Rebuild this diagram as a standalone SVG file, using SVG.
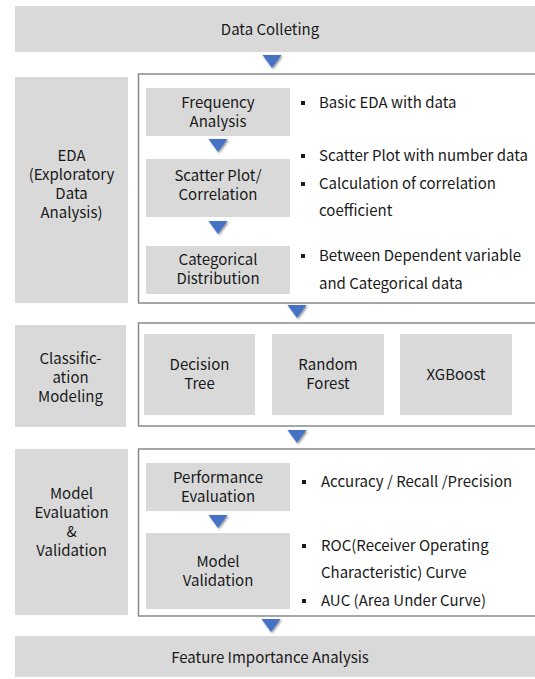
<svg xmlns="http://www.w3.org/2000/svg" width="535" height="679" viewBox="0 0 535 679">
  <defs>
    <style>
      .band { fill: #d9d9d9; }
      .box { fill: #d9d9d9; }
      .frame { fill: #ffffff; stroke: #8a8a8a; stroke-width: 1.5; }
      .lbl { font-family: "Noto Sans CJK KR", "Noto Sans", sans-serif; font-size: 15px; fill: #1a1a1a; text-anchor: middle; }
      .note { font-family: "Noto Sans CJK KR", "Noto Sans", sans-serif; font-size: 15px; fill: #1a1a1a; }
      .dot { fill: #1a1a1a; }
      .arrow { fill: #4472c4; filter: url(#shade); }
    </style>
    <filter id="shade" x="-40%" y="-40%" width="180%" height="180%">
      <feDropShadow dx="1.2" dy="1.2" stdDeviation="0.8" flood-color="#000000" flood-opacity="0.45"/>
    </filter>
    <polygon id="tri" points="-9.5,0 9.5,0 0,13"/>
  </defs>

  <rect width="535" height="679" fill="#ffffff"/>

  <!-- top stage -->
  <g id="data-collecting">
    <rect class="band" x="15" y="6" width="520" height="46"/>
    <text class="lbl" x="270" y="35">Data Colleting</text>
  </g>

  <!-- EDA stage -->
  <g id="eda">
    <rect class="box" x="15" y="77" width="113" height="226"/>
    <text class="lbl" x="71.5" y="161">EDA</text>
    <text class="lbl" x="71.5" y="180">(Exploratory</text>
    <text class="lbl" x="71.5" y="199">Data</text>
    <text class="lbl" x="71.5" y="218">Analysis)</text>
  </g>
  <g id="eda-frame">
    <rect class="frame" x="138.5" y="74" width="400" height="229"/>
  </g>
  <g id="frequency-analysis">
    <rect class="box" x="146" y="88" width="144" height="48"/>
    <text class="lbl" x="218" y="108">Frequency</text>
    <text class="lbl" x="218" y="127">Analysis</text>
  </g>
  <g id="scatter-plot">
    <rect class="box" x="146" y="159" width="144" height="58"/>
    <text class="lbl" x="218" y="181">Scatter Plot/</text>
    <text class="lbl" x="218" y="200">Correlation</text>
  </g>
  <g id="categorical-distribution">
    <rect class="box" x="146" y="246" width="144" height="48"/>
    <text class="lbl" x="218" y="265">Categorical</text>
    <text class="lbl" x="218" y="284">Distribution</text>
  </g>
  <g id="eda-notes">
    <rect class="dot" x="301" y="101" width="4" height="4"/>
    <text class="note" x="319" y="108">Basic EDA with data</text>
    <rect class="dot" x="301" y="154" width="4" height="4"/>
    <text class="note" x="319" y="161">Scatter Plot with number data</text>
    <rect class="dot" x="301" y="182" width="4" height="4"/>
    <text class="note" x="319" y="189">Calculation of correlation</text>
    <text class="note" x="319" y="216">coefficient</text>
    <rect class="dot" x="301" y="254" width="4" height="4"/>
    <text class="note" x="319" y="261">Between Dependent variable</text>
    <text class="note" x="319" y="289">and Categorical data</text>
  </g>

  <!-- classification stage -->
  <g id="classification">
    <rect class="box" x="15" y="325" width="111" height="102"/>
    <text class="lbl" x="70.5" y="364">Classific-</text>
    <text class="lbl" x="70.5" y="383">ation</text>
    <text class="lbl" x="70.5" y="402">Modeling</text>
  </g>
  <g id="classification-frame">
    <rect class="frame" x="138.5" y="323" width="400" height="103"/>
  </g>
  <g id="decision-tree">
    <rect class="box" x="144" y="334" width="111" height="81"/>
    <text class="lbl" x="199.5" y="370">Decision</text>
    <text class="lbl" x="199.5" y="389">Tree</text>
  </g>
  <g id="random-forest">
    <rect class="box" x="272" y="334" width="112" height="81"/>
    <text class="lbl" x="328" y="370">Random</text>
    <text class="lbl" x="328" y="389">Forest</text>
  </g>
  <g id="xgboost">
    <rect class="box" x="400" y="334" width="112" height="81"/>
    <text class="lbl" x="456" y="380">XGBoost</text>
  </g>

  <!-- evaluation stage -->
  <g id="evaluation">
    <rect class="box" x="15" y="449" width="113" height="166"/>
    <text class="lbl" x="71.5" y="499">Model</text>
    <text class="lbl" x="71.5" y="518">Evaluation</text>
    <text class="lbl" x="71.5" y="537">&amp;</text>
    <text class="lbl" x="71.5" y="556">Validation</text>
  </g>
  <g id="evaluation-frame">
    <rect class="frame" x="138.5" y="449" width="400" height="167"/>
  </g>
  <g id="performance-evaluation">
    <rect class="box" x="146" y="463" width="144" height="48"/>
    <text class="lbl" x="218" y="483">Performance</text>
    <text class="lbl" x="218" y="502">Evaluation</text>
  </g>
  <g id="model-validation">
    <rect class="box" x="146" y="533" width="144" height="76"/>
    <text class="lbl" x="218" y="567">Model</text>
    <text class="lbl" x="218" y="586">Validation</text>
  </g>
  <g id="evaluation-notes">
    <rect class="dot" x="302" y="480" width="4" height="4"/>
    <text class="note" x="321" y="487">Accuracy / Recall /Precision</text>
    <rect class="dot" x="302" y="544" width="4" height="4"/>
    <text class="note" x="321" y="551">ROC(Receiver Operating</text>
    <text class="note" x="321" y="578">Characteristic) Curve</text>
    <rect class="dot" x="302" y="599" width="4" height="4"/>
    <text class="note" x="321" y="606">AUC (Area Under Curve)</text>
  </g>

  <!-- final stage -->
  <g id="feature-importance">
    <rect class="band" x="15" y="636" width="520" height="41"/>
    <text class="lbl" x="270" y="663">Feature Importance Analysis</text>
  </g>

  <!-- flow arrows -->
  <g id="connectors">
    <use href="#tri" class="arrow" x="272" y="55"/>
    <use href="#tri" class="arrow" x="218" y="139"/>
    <use href="#tri" class="arrow" x="218" y="221"/>
    <use href="#tri" class="arrow" x="297" y="305"/>
    <use href="#tri" class="arrow" x="297" y="430"/>
    <use href="#tri" class="arrow" x="218" y="515"/>
    <use href="#tri" class="arrow" x="271" y="619"/>
  </g>
</svg>
